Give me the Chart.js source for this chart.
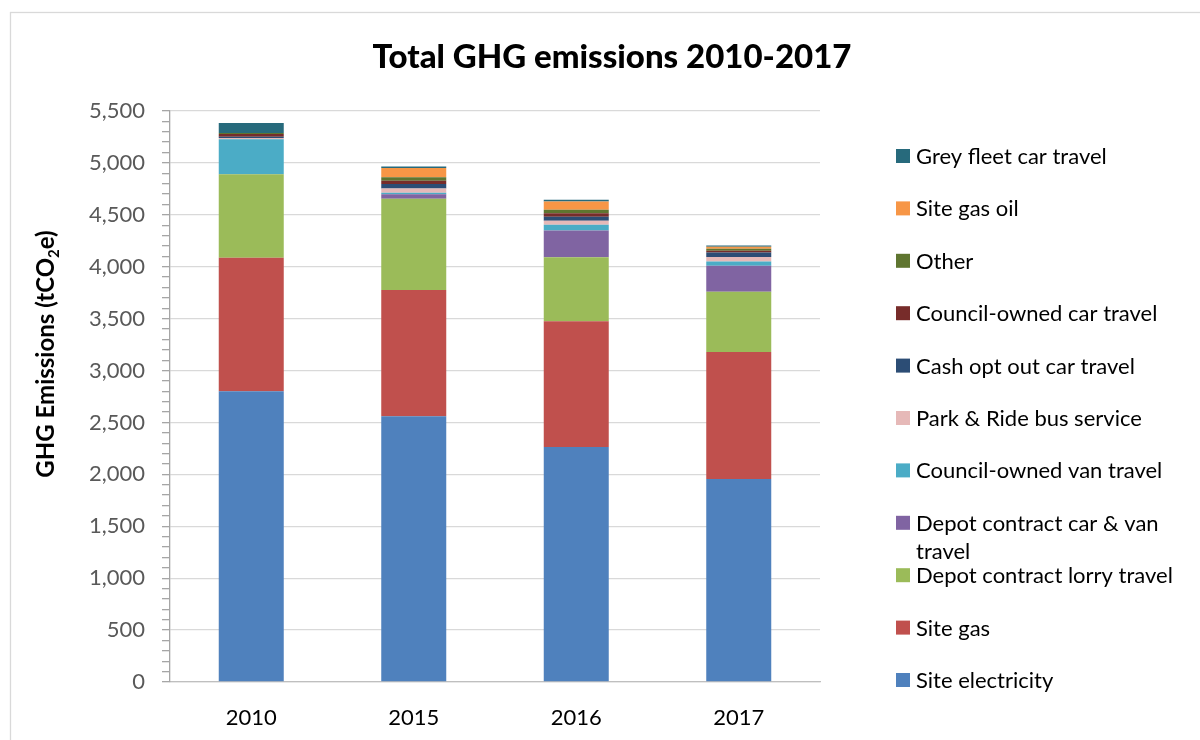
<!DOCTYPE html>
<html><head><meta charset="utf-8">
<style>html,body{margin:0;padding:0;background:#fff}#wrap{width:1200px;height:740px;position:relative}canvas{display:block}</style>
</head><body><div id="wrap"><canvas id="c" width="1200" height="740"></canvas></div>
<script src="https://cdn.jsdelivr.net/npm/chart.js@4/dist/chart.umd.min.js"></script>
<script>
const chartTitle = 'Total GHG emissions 2010-2017';
const years = ['2010', '2015', '2016', '2017'];
const siteElectricity   = [2800, 2560, 2263, 1955];
const siteGas           = [1287, 1215, 1213, 1223];
const depotLorry        = [803, 879, 616, 581];
const depotCarVan       = [0, 45, 257, 250];
const councilVan        = [337, 13, 55, 42];
const parkRide          = [14, 42, 39, 42];
const cashOptOut        = [10, 42, 39, 45];
const councilCar        = [28, 32, 32, 16];
const other             = [9, 35, 35, 19];
const siteGasOil        = [0, 87, 80, 19];
const greyFleet         = [96, 16, 16, 13];
const yTickMax = 5500;
const yTickStep = 100;
const yLabelStep = 500;

const seriesNames = ['Site electricity', 'Site gas', 'Depot contract lorry travel', 'Depot contract car & van travel',
  'Council-owned van travel', 'Park & Ride bus service', 'Cash opt out car travel', 'Council-owned car travel',
  'Other', 'Site gas oil', 'Grey fleet car travel'];
const seriesValues = [siteElectricity, siteGas, depotLorry, depotCarVan, councilVan, parkRide, cashOptOut,
  councilCar, other, siteGasOil, greyFleet];
const seriesColors = ['#4F81BD', '#C0504D', '#9BBB59', '#8064A2', '#4BACC6', '#E6B9B8', '#2C4D75',
  '#772C2A', '#5F7530', '#F79646', '#276A7C'];
const legendLines = {'Depot contract car & van travel': ['Depot contract car & van', 'travel']};

const FONT = 'Lato, "Open Sans", "Noto Sans", sans-serif';

const decor = {
  id: 'decor',
  beforeDraw(chart) {
    const ctx = chart.ctx;
    ctx.save();
    ctx.strokeStyle = '#d9d9d9';
    ctx.lineWidth = 1.3;
    ctx.strokeRect(10.5, 12.5, 1400, 900);
    ctx.restore();
  },
  afterDraw(chart) {
    const ctx = chart.ctx;
    ctx.save();
    // title
    ctx.fillStyle = '#000';
    ctx.font = '900 33px ' + FONT;
    ctx.textAlign = 'center';
    ctx.textBaseline = 'middle';
    ctx.fillText(chartTitle, 612, 57);
    // y axis title with subscript
    ctx.save();
    ctx.translate(46, 354);
    ctx.rotate(-Math.PI / 2);
    const big = 'bold 24px ' + FONT, small = 'bold 15px ' + FONT;
    const p1 = 'GHG Emissions (tCO', p2 = '2', p3 = 'e)';
    ctx.font = big; const w1 = ctx.measureText(p1).width, w3 = ctx.measureText(p3).width;
    ctx.font = small; const w2 = ctx.measureText(p2).width;
    let x = -(w1 + w2 + w3) / 2;
    ctx.textAlign = 'left'; ctx.textBaseline = 'alphabetic';
    ctx.font = big; ctx.fillText(p1, x, 8); x += w1;
    ctx.font = small; ctx.fillText(p2, x, 13); x += w2;
    ctx.font = big; ctx.fillText(p3, x, 8);
    ctx.restore();
    // legend (reverse order)
    ctx.font = '22px ' + FONT;
    ctx.textAlign = 'left';
    ctx.textBaseline = 'middle';
    const ds = chart.data.datasets;
    const n = ds.length;
    for (let k = 0; k < n; k++) {
      const d = ds[n - 1 - k];
      const cy = 156 + k * 52.4;
      ctx.fillStyle = d.backgroundColor;
      ctx.fillRect(896, cy - 7, 14, 14);
      ctx.fillStyle = '#000';
      const lines = legendLines[d.label] || [d.label];
      lines.forEach((t, i) => ctx.fillText(t, 916, cy + 1 + i * 28));
    }
    ctx.restore();
  }
};

new Chart(document.getElementById('c'), {
  type: 'bar',
  data: {
    labels: years,
    datasets: seriesNames.map((name, i) => ({
      label: name,
      data: seriesValues[i],
      backgroundColor: seriesColors[i],
      borderWidth: 0,
      barPercentage: 1,
      categoryPercentage: 0.4
    }))
  },
  options: {
    responsive: false,
    animation: false,
    devicePixelRatio: 1,
    layout: { padding: { left: 10, top: 111, right: 380, bottom: 0 } },
    plugins: { legend: { display: false }, title: { display: false }, tooltip: { enabled: false } },
    scales: {
      x: {
        stacked: true,
        grid: { display: false },
        border: { display: true, color: '#bfbfbf', width: 1.3 },
        ticks: { color: '#000', font: { family: FONT, size: 22 }, padding: 15 },
        afterFit(scale) { scale.height = 58; }
      },
      y: {
        stacked: true,
        min: 0,
        max: yTickMax,
        grid: {
          color: c => (c.tick && c.tick.value % yLabelStep === 0) ? '#d9d9d9' : 'rgba(0,0,0,0)',
          lineWidth: 1.3,
          tickColor: '#a6a6a6',
          tickLength: 8,
          drawTicks: true
        },
        border: { display: true, color: '#a6a6a6', width: 1.3 },
        ticks: {
          stepSize: yTickStep,
          autoSkip: false,
          color: '#595959',
          font: { family: FONT, size: 22 },
          padding: 17,
          callback: v => (v % yLabelStep === 0) ? v.toLocaleString('en-US') : ''
        },
        afterFit(scale) { scale.width = 160; }
      }
    }
  },
  plugins: [decor]
});
</script>
</body></html>
